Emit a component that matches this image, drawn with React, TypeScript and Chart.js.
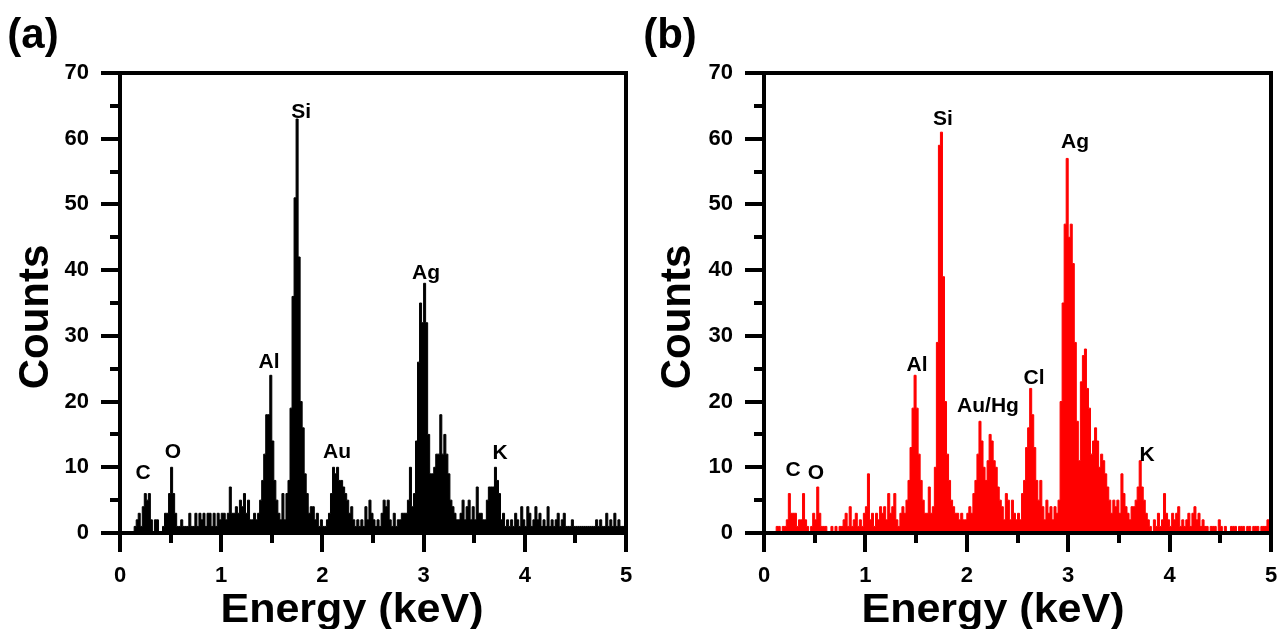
import React, { useEffect, useRef } from 'react';
import { Chart, registerables } from 'chart.js';

Chart.register(...registerables);

// ---- data (counts per 0.02 keV channel, starting at 0 keV) ----
const BIN_WIDTH = 0.02; // keV
const ENERGY_MAX = 5;

const countsA = [
  0, 0, 0, 0, 0, 0, 0, 0, 1, 2, 3, 1, 4, 6, 5, 6, 2, 0, 2, 2,
  0, 0, 1, 3, 3, 6, 10, 6, 3, 1, 1, 2, 1, 1, 1, 3, 1, 1, 3, 1,
  3, 2, 3, 1, 3, 3, 1, 3, 1, 3, 2, 3, 3, 2, 3, 7, 3, 3, 4, 3,
  5, 4, 6, 3, 5, 2, 2, 3, 2, 3, 5, 8, 12, 18, 18, 24, 14, 8, 5, 3,
  2, 6, 2, 6, 8, 19, 36, 51, 63, 42, 20, 16, 9, 6, 3, 4, 4, 2, 3, 1,
  2, 1, 1, 2, 3, 6, 10, 9, 10, 8, 8, 7, 6, 5, 3, 4, 2, 1, 2, 1,
  2, 1, 4, 2, 5, 3, 2, 1, 2, 1, 3, 5, 4, 5, 2, 1, 3, 1, 2, 2,
  3, 3, 3, 5, 10, 4, 6, 14, 26, 35, 32, 38, 32, 15, 9, 9, 10, 12, 12, 18,
  12, 15, 12, 9, 5, 4, 3, 2, 2, 3, 5, 2, 4, 5, 2, 4, 2, 7, 3, 3,
  2, 2, 5, 7, 7, 7, 10, 8, 6, 2, 3, 1, 2, 1, 2, 1, 3, 2, 1, 4,
  2, 1, 4, 3, 1, 2, 4, 2, 3, 1, 2, 1, 4, 1, 2, 1, 2, 3, 1, 2,
  3, 1, 1, 1, 2, 1, 1, 1, 1, 1, 1, 1, 1, 1, 1, 1, 2, 1, 2, 1,
  1, 3, 1, 2, 1, 3, 1, 2, 1, 1,
];

const countsB = [
  0, 0, 0, 0, 0, 0, 0, 1, 1, 0, 1, 1, 2, 6, 3, 3, 3, 1, 2, 2,
  6, 2, 1, 0, 1, 3, 2, 7, 3, 1, 1, 1, 0, 0, 1, 0, 1, 0, 1, 1,
  2, 3, 1, 4, 1, 2, 3, 1, 2, 1, 3, 4, 9, 2, 3, 1, 3, 2, 4, 3,
  4, 2, 6, 3, 4, 6, 2, 1, 3, 4, 3, 5, 8, 13, 19, 24, 19, 12, 8, 5,
  3, 3, 7, 3, 4, 10, 29, 59, 61, 39, 20, 12, 8, 5, 4, 3, 3, 2, 3, 2,
  2, 3, 4, 3, 6, 8, 12, 17, 14, 10, 8, 11, 15, 14, 11, 10, 7, 5, 4, 2,
  6, 5, 2, 5, 3, 2, 3, 2, 6, 8, 13, 16, 22, 18, 13, 8, 5, 8, 4, 2,
  5, 3, 4, 2, 4, 3, 5, 20, 35, 47, 57, 45, 47, 41, 29, 17, 11, 23, 27, 28,
  22, 19, 12, 14, 16, 14, 10, 12, 11, 9, 7, 5, 3, 5, 4, 5, 3, 9, 6, 4,
  3, 2, 4, 4, 5, 7, 11, 7, 5, 3, 2, 1, 0, 2, 1, 3, 1, 2, 6, 3,
  2, 1, 3, 2, 3, 4, 1, 2, 1, 2, 3, 1, 3, 4, 2, 3, 1, 2, 1, 1,
  0, 1, 1, 1, 0, 2, 1, 0, 1, 0, 0, 1, 1, 1, 0, 1, 1, 1, 0, 1,
  1, 0, 1, 1, 1, 0, 1, 1, 1, 2,
];

// peak annotations: label text, energy (keV), counts position
const peakTextA = ['C', 'O', 'Al', 'Si', 'Au', 'Ag', 'K'];
const peakEnergyA = [0.227, 0.524, 1.472, 1.789, 2.144, 3.024, 3.755];
const peakCountA = [9.1, 12.3, 26.0, 64.1, 12.3, 39.6, 12.2];

const peakTextB = ['C', 'O', 'Al', 'Si', 'Au/Hg', 'Cl', 'Ag', 'K'];
const peakEnergyB = [0.286, 0.513, 1.509, 1.765, 2.209, 2.663, 3.067, 3.777];
const peakCountB = [9.6, 9.1, 25.6, 63.0, 19.3, 23.6, 59.5, 11.9];

// axes
const X_TICKS = [0, 1, 2, 3, 4, 5];
const X_MINOR = [0.5, 1.5, 2.5, 3.5, 4.5];
const Y_TICKS = [0, 10, 20, 30, 40, 50, 60, 70];
const Y_MINOR = [5, 15, 25, 35, 45, 55, 65];
const X_TITLE = 'Energy (keV)';
const Y_TITLE = 'Counts';

const FONT = '"Liberation Sans", Arial, Helvetica, sans-serif';

type PanelSpec = {
  tag: string;
  counts: number[];
  color: string;
  peakText: string[];
  peakEnergy: number[];
  peakCount: number[];
  axisWidth: number;
  padRight: number;
  tagX: number;
  yTitleX: number;
  xTitleX: number;
};

function buildConfig(p: PanelSpec): any {
  const points = p.counts.map((c, i) => ({ x: i * BIN_WIDTH, y: c }));
  points.push({ x: ENERGY_MAX, y: p.counts[p.counts.length - 1] });

  const decor = {
    id: 'decor',
    afterDraw(chart: any) {
      const { ctx, chartArea: a } = chart;
      const xs = chart.scales.x;
      const ys = chart.scales.y;
      ctx.save();
      ctx.strokeStyle = '#000';
      ctx.lineWidth = 4;
      ctx.lineCap = 'butt';
      ctx.beginPath();
      for (const v of Y_MINOR) {
        const py = Math.round(ys.getPixelForValue(v));
        ctx.moveTo(a.left - 10, py);
        ctx.lineTo(a.left, py);
      }
      for (const v of X_MINOR) {
        const px = Math.round(xs.getPixelForValue(v));
        ctx.moveTo(px, a.bottom);
        ctx.lineTo(px, a.bottom + 10);
      }
      ctx.stroke();
      ctx.strokeRect(a.left, a.top, a.right - a.left, a.bottom - a.top);

      ctx.fillStyle = '#000';
      ctx.textAlign = 'center';
      ctx.textBaseline = 'middle';
      ctx.font = `bold 21px ${FONT}`;
      p.peakText.forEach((t, i) => {
        ctx.fillText(t, xs.getPixelForValue(p.peakEnergy[i]), ys.getPixelForValue(p.peakCount[i]));
      });

      // panel tag
      ctx.font = `bold 42px ${FONT}`;
      ctx.fillText(p.tag, p.tagX, 36);

      // axis titles
      ctx.font = `bold 42px ${FONT}`;
      ctx.save();
      ctx.translate(p.yTitleX, 317);
      ctx.rotate(-Math.PI / 2);
      ctx.fillText(Y_TITLE, 0, 0);
      ctx.restore();

      ctx.font = `bold 41px ${FONT}`;
      ctx.save();
      ctx.translate(p.xTitleX, 611);
      ctx.scale(1.05, 1);
      ctx.fillText(X_TITLE, 0, 0);
      ctx.restore();

      ctx.restore();
    },
  };

  return {
    type: 'line',
    data: {
      datasets: [
        {
          data: points,
          stepped: 'after',
          fill: 'origin',
          backgroundColor: p.color,
          borderColor: p.color,
          borderWidth: 1,
          pointRadius: 0,
        },
      ],
    },
    options: {
      animation: false,
      responsive: false,
      maintainAspectRatio: false,
      events: [],
      layout: { padding: { left: 0, right: p.padRight, top: 73, bottom: 0 } },
      plugins: { legend: { display: false }, tooltip: { enabled: false } },
      scales: {
        x: {
          type: 'linear',
          min: 0,
          max: ENERGY_MAX,
          afterBuildTicks: (s: any) => {
            s.ticks = X_TICKS.map((v) => ({ value: v }));
          },
          afterFit: (s: any) => {
            s.height = 96;
            s.paddingLeft = 0;
            s.paddingRight = 0;
          },
          ticks: {
            color: '#000',
            font: { family: FONT, size: 22, weight: 'bold' },
            padding: 11,
            maxRotation: 0,
            callback: (v: any) => String(v),
          },
          grid: {
            drawOnChartArea: false,
            drawTicks: true,
            tickLength: 19,
            lineWidth: 4,
            color: '#000',
          },
          border: { display: false },
          title: { display: false },
        },
        y: {
          type: 'linear',
          min: 0,
          max: 70,
          afterBuildTicks: (s: any) => {
            s.ticks = Y_TICKS.map((v) => ({ value: v }));
          },
          afterFit: (s: any) => {
            s.width = p.axisWidth;
            s.paddingTop = 0;
            s.paddingBottom = 0;
          },
          ticks: {
            color: '#000',
            font: { family: FONT, size: 22, weight: 'bold' },
            padding: 12,
            callback: (v: any) => String(v),
          },
          grid: {
            drawOnChartArea: false,
            drawTicks: true,
            tickLength: 19,
            lineWidth: 4,
            color: '#000',
          },
          border: { display: false },
          title: { display: false },
        },
      },
    },
    plugins: [decor],
  };
}

const panelA: PanelSpec = {
  tag: '(a)',
  counts: countsA,
  color: '#000000',
  peakText: peakTextA,
  peakEnergy: peakEnergyA,
  peakCount: peakCountA,
  axisWidth: 120,
  padRight: 14,
  tagX: 33,
  yTitleX: 36,
  xTitleX: 352,
};

const panelB: PanelSpec = {
  tag: '(b)',
  counts: countsB,
  color: '#ff0000',
  peakText: peakTextB,
  peakEnergy: peakEnergyB,
  peakCount: peakCountB,
  axisWidth: 124,
  padRight: 9,
  tagX: 30,
  yTitleX: 38,
  xTitleX: 353,
};

function Panel({ spec, left }: { spec: PanelSpec; left: number }) {
  const ref = useRef<HTMLCanvasElement | null>(null);
  useEffect(() => {
    if (!ref.current) return;
    const chart = new Chart(ref.current, buildConfig(spec));
    return () => chart.destroy();
  }, [spec]);
  return (
    <canvas
      ref={ref}
      width={640}
      height={629}
      style={{ position: 'absolute', left, top: 0, width: 640, height: 629 }}
    />
  );
}

export default function App() {
  return (
    <div
      style={{
        position: 'absolute',
        left: 0,
        top: 0,
        width: 1280,
        height: 629,
        background: '#fff',
        overflow: 'hidden',
      }}
    >
      <Panel spec={panelA} left={0} />
      <Panel spec={panelB} left={640} />
    </div>
  );
}
